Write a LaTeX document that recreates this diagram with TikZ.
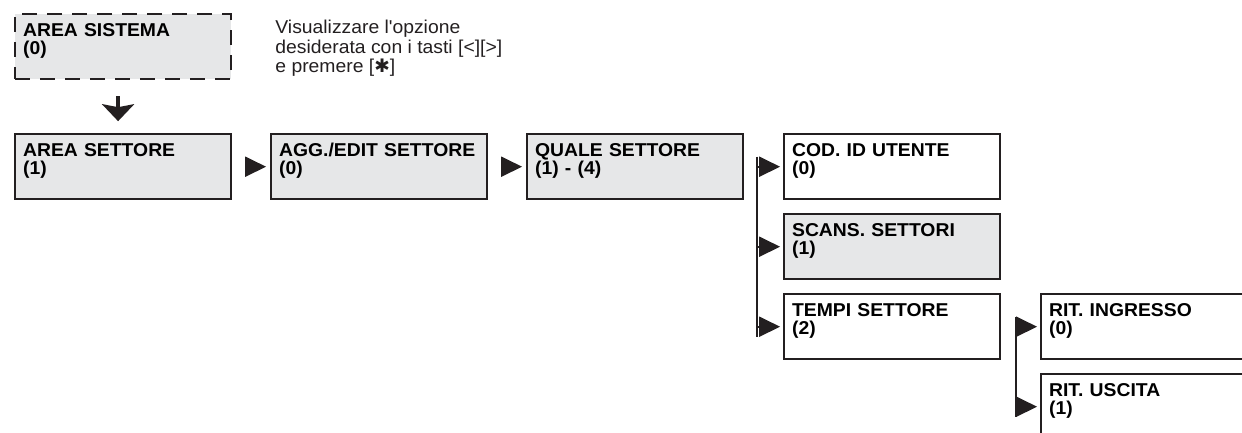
\documentclass[tikz,border=0pt]{standalone}
\usepackage{fontspec}
\setmainfont{Liberation Sans}[FakeStretch=1.04]
\newfontfamily\symfont{DejaVu Sans}
\usetikzlibrary{arrows.meta, positioning}

\definecolor{boxgray}{RGB}{230,231,232}
\definecolor{ink}{RGB}{35,31,32}

\begin{document}
\begin{tikzpicture}[x=0.5pt, y=-0.5pt,
        menu/.style={rectangle, draw=ink, line width=1pt, fill=white, text width=100pt, align=left, inner xsep=4pt, inner ysep=4.3pt, text height=6.7pt, text depth=17.2pt, minimum width=108pt, minimum height=32.5pt, font=\fontsize{9.3}{9}\selectfont\bfseries},
        menugray/.style={menu, fill=boxgray},
        dashmenu/.style={menugray, line width=1.1pt, dash pattern=on 7.5pt off 5pt},
        hint/.style={align=left, inner sep=0pt, text=ink, font=\fontsize{9.3}{8}\selectfont},
        gotip/.style={-{Triangle[length=10.5pt, width=10pt]}, draw=ink, line width=1pt},
        bus/.style={draw=ink, line width=1pt},
        down/.style={-{Stealth[length=8.5pt, width=16pt, inset=1.5pt]}, draw=ink, line width=2pt}]

    \useasboundingbox (0,0) rectangle (1242,433);

    % menu boxes
    \node[dashmenu, anchor=north west] (sys) at (14,13) {AREA SISTEMA\\(0)};
    \node[menugray, below=26.5pt of sys] (settore) {AREA SETTORE\\(1)};
    \node[menugray, right=19pt of settore] (edit) {AGG./EDIT SETTORE\\(0)};
    \node[menugray, right=19pt of edit] (quale) {QUALE SETTORE\\(1) - (4)};
    \node[menu, right=19.5pt of quale] (codid) {COD. ID UTENTE\\(0)};
    \node[menugray, below=6.5pt of codid] (scans) {SCANS. SETTORI\\(1)};
    \node[menu, below=6.5pt of scans] (tempi) {TEMPI SETTORE\\(2)};
    \node[menu, right=19.5pt of tempi] (ingresso) {RIT. INGRESSO\\(0)};
    \node[menu, below=6.5pt of ingresso] (uscita) {RIT. USCITA\\(1)};

    \node[hint, anchor=north west] (note) at (275,20) {Visualizzare l\textquotesingle opzione\\desiderata con i tasti [<][>]\\e premere [{\symfont\bfseries ✱}]};

    % arrows
    \draw[down] ([xshift=-2.5pt, yshift=-8pt]sys.south) -- ([xshift=-2.5pt, yshift=6pt]settore.north);
    \draw[gotip, shorten <=7.5pt, shorten >=2pt] (settore.east) -- (edit.west);
    \draw[gotip, shorten <=7.5pt, shorten >=2pt] (edit.east) -- (quale.west);

    % branch lines
    \coordinate[left=13pt of codid.west] (b1);
    \coordinate[left=13pt of scans.west] (b2);
    \coordinate[left=13pt of tempi.west] (b3);
    \coordinate[left=12pt of ingresso.west] (c1);
    \coordinate[left=12pt of uscita.west] (c2);
    \draw[bus, shorten <=-5pt, shorten >=-5pt] (b1) -- (b3);
    \draw[bus, shorten <=-5pt, shorten >=-5pt] (c1) -- (c2);
    \foreach \n/\b in {codid/b1, scans/b2, tempi/b3, ingresso/c1, uscita/c2}
        \draw[gotip, shorten >=1.5pt] (\b) -- (\n.west);
\end{tikzpicture}
\end{document}
